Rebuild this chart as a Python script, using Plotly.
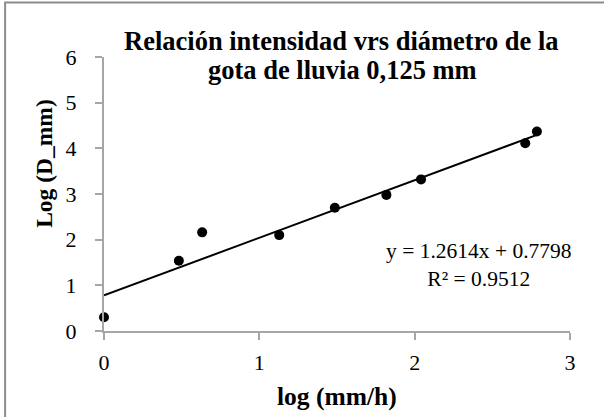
import plotly.graph_objects as go

# Data
log_intensity = [0.0, 0.482, 0.632, 1.128, 1.486, 1.818, 2.041, 2.712, 2.787]
log_diameter = [0.30, 1.54, 2.16, 2.10, 2.70, 2.98, 3.32, 4.11, 4.37]
slope = 1.2614
intercept = 0.7798
r_squared = 0.9512
x_ticks = [0, 1, 2, 3]
y_ticks = [0, 1, 2, 3, 4, 5, 6]

title_lines = ["Relación intensidad vrs diámetro de la", "gota de lluvia 0,125 mm"]
x_title = "log (mm/h)"
y_title = "Log (D_mm)"

trend_x = [min(log_intensity), max(log_intensity)]
trend_y = [slope * v + intercept for v in trend_x]

FONT = "Liberation Serif"
AXIS_COLOR = "#a6a6a6"

# plot area in pixels
L, R, T, B = 104, 570.5, 57, 331.5
PW, PH = R - L, B - T


def px_x(p):
    return (p - L) / PW


def px_y(p):
    return (B - p) / PH


fig = go.Figure()
fig.add_trace(go.Scatter(
    x=trend_x, y=trend_y, mode="lines",
    line=dict(color="black", width=2), hoverinfo="skip", showlegend=False,
))
fig.add_trace(go.Scatter(
    x=log_intensity, y=log_diameter, mode="markers",
    marker=dict(color="black", size=10), cliponaxis=False, showlegend=False,
))

annotations = [
    dict(
        text="<b>" + title_lines[0] + "</b>",
        x=px_x(342), y=px_y(41), xref="paper", yref="paper", showarrow=False,
        xanchor="center", yanchor="middle",
        font=dict(family=FONT, size=26.5, color="black"),
    ),
    dict(
        text="<b>" + title_lines[1] + "</b>",
        x=px_x(343), y=px_y(70), xref="paper", yref="paper", showarrow=False,
        xanchor="center", yanchor="middle",
        font=dict(family=FONT, size=26.5, color="black"),
    ),
    dict(
        text="y = %.4fx + %.4f<br>R² = %.4f" % (slope, intercept, r_squared),
        x=px_x(479), y=px_y(265.5), xref="paper", yref="paper", showarrow=False,
        xanchor="center", yanchor="middle", align="center",
        font=dict(family=FONT, size=21.5, color="black"),
    ),
    dict(
        text="<b>" + x_title + "</b>",
        x=px_x(337), y=px_y(397), xref="paper", yref="paper", showarrow=False,
        xanchor="center", yanchor="middle",
        font=dict(family=FONT, size=25.5, color="black"),
    ),
    dict(
        text="<b>" + y_title + "</b>", textangle=-90,
        x=px_x(44), y=px_y(164), xref="paper", yref="paper", showarrow=False,
        xanchor="center", yanchor="middle",
        font=dict(family=FONT, size=23.5, color="black"),
    ),
]

fig.update_layout(
    template="none",
    width=604, height=417,
    margin=dict(l=L, r=604 - R, t=T, b=417 - B, autoexpand=False),
    paper_bgcolor="white", plot_bgcolor="white",
    font=dict(family=FONT, size=22, color="black"),
    showlegend=False,
    annotations=annotations,
    shapes=[
        dict(
            type="rect", xref="paper", yref="paper",
            x0=px_x(5), x1=px_x(640), y0=px_y(460), y1=px_y(2.5),
            line=dict(color="#8c8c8c", width=2), fillcolor="rgba(0,0,0,0)",
            layer="below",
        ),
    ],
    xaxis=dict(
        range=[0, 3], tickvals=x_ticks, showgrid=False, zeroline=False,
        showline=True, linecolor=AXIS_COLOR, linewidth=2,
        ticks="outside", ticklen=7, tickwidth=2, tickcolor=AXIS_COLOR,
        tickfont=dict(family=FONT, size=22, color="black"),
        ticklabelstandoff=4,
    ),
    yaxis=dict(
        range=[0, 6], tickvals=y_ticks, showgrid=False, zeroline=False,
        showline=True, linecolor=AXIS_COLOR, linewidth=2,
        ticks="outside", ticklen=7, tickwidth=2, tickcolor=AXIS_COLOR,
        tickfont=dict(family=FONT, size=22, color="black"),
        ticklabelstandoff=14,
    ),
)

fig.write_html(
    "out.html",
    config={"displayModeBar": False},
    post_script="document.body.style.margin='0';",
)
